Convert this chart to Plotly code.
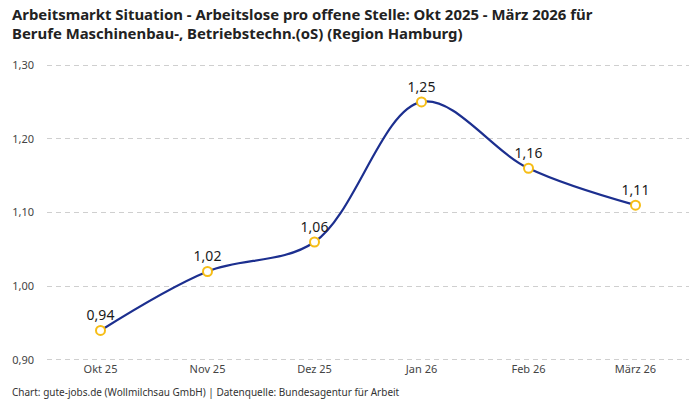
import plotly.graph_objects as go

# Arbeitslose pro offene Stelle, Okt 2025 - März 2026
monate = ["Okt 25", "Nov 25", "Dez 25", "Jan 26", "Feb 26", "März 26"]
werte = [0.94, 1.02, 1.06, 1.25, 1.16, 1.11]
y_ticks = [0.90, 1.00, 1.10, 1.20, 1.30]

schrift = "Noto Sans"
titel = ("<b>Arbeitsmarkt Situation - Arbeitslose pro offene Stelle: Okt 2025 - März 2026 für<br>"
         "Berufe Maschinenbau-, Betriebstechn.(oS) (Region Hamburg)</b>")
quelle = "Chart: gute-jobs.de (Wollmilchsau GmbH) | Datenquelle: Bundesagentur für Arbeit"

fig = go.Figure([go.Scatter(
    x=monate, y=werte,
    mode="lines+markers+text",
    line=dict(color="#1c2f8f", width=2.2, shape="spline", smoothing=1.0),
    marker=dict(size=9, color="white", line=dict(color="#f6bd16", width=2)),
    text=[f"{v:.2f}".replace(".", ",") for v in werte],
    textposition="top center",
    textfont=dict(family=schrift, size=14, color="#1a1a1a"),
    hoverinfo="skip",
    cliponaxis=False,
)])

# plot area: 642 x 297 px
pw, ph = 642, 297
fig.update_layout(
    width=700, height=400,
    margin=dict(l=47, r=11, t=64, b=39),
    paper_bgcolor="white", plot_bgcolor="white",
    separators=",.",
    showlegend=False,
    font=dict(family=schrift, size=11, color="#444444"),
    annotations=[
        dict(text=titel, xref="paper", yref="paper",
             x=-37 / pw, y=1 + 62 / ph, xanchor="left", yanchor="top", align="left",
             showarrow=False, font=dict(family=schrift, size=14.9, color="#222222")),
        dict(text=quelle, xref="paper", yref="paper",
             x=-37 / pw, y=-31 / ph, xanchor="left", yanchor="middle",
             showarrow=False, font=dict(family=schrift, size=10, color="#333333")),
    ],
)
fig.update_xaxes(showgrid=False, showline=False, ticks="", range=[-0.5, 5.5],
                 tickfont=dict(size=11, color="#444444"))
fig.update_yaxes(range=[0.8986, 1.3014], tickvals=y_ticks, tickformat=".2f",
                 showgrid=True, gridcolor="#cfcfcf", griddash="5px,4px", gridwidth=1,
                 zeroline=False, showline=False, ticks="",
                 tickfont=dict(size=11, color="#444444"), ticklabelstandoff=12)
fig.write_html("out.html", config={"displayModeBar": False},
               post_script="document.body.style.margin = '0';")
